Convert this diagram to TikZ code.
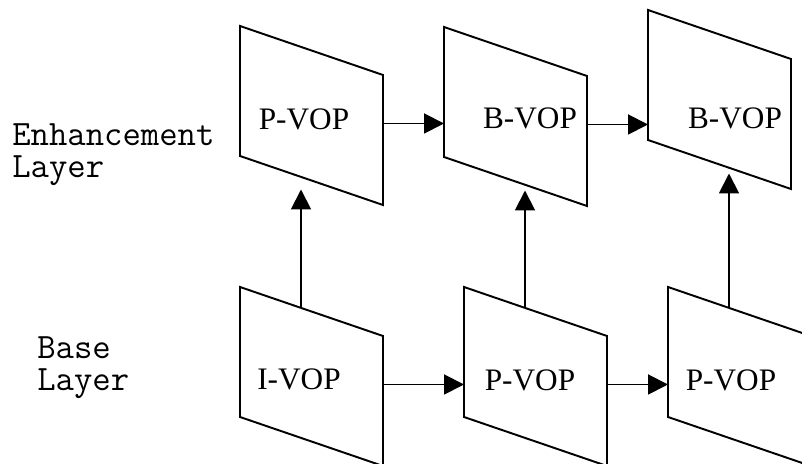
\documentclass[tikz,border=0pt]{standalone}
\usepackage{fontspec}
\setmainfont{Liberation Serif}
\usepackage{tikz}
\usetikzlibrary{arrows.meta}

\tikzset{
	flow/.style={-{Triangle[length=0.4cm,width=0.4cm]}, line width=1.1pt},
	layerlabel/.style={font=\ttfamily\fontsize{20.3}{18.4}\selectfont, align=left, inner sep=0pt},
	% slanted frame with its label, plus the points the arrows attach to
	pics/vop/.style args={#1 at #2}{code={
		\draw[line width=1.1pt] (0,0) -- (2.86,-0.98) -- (2.86,-3.58) -- (0,-2.6) -- cycle;
		\coordinate (-w) at (0,-1.95);
		\coordinate (-e) at (2.86,-1.95);
		\coordinate (-n) at (1.22,-0.418);
		\coordinate (-s) at (1.22,-3.27);
		\node[font=\fontsize{17.8}{20}\selectfont, anchor=base, inner sep=0pt] (-txt) at #2 {#1};
	}},
}

\begin{document}
\begin{tikzpicture}
	\useasboundingbox (0,0) rectangle (16.04,-9.28);
	% enhancement layer
	\pic (pv1) at (4.8,-0.52) {vop={P-VOP at (1.28,-2.08)}};
	\pic (bv1) at (8.88,-0.54) {vop={B-VOP at (1.72,-2.04)}};
	\pic (bv2) at (12.96,-0.2) {vop={B-VOP at (1.74,-2.38)}};
	% base layer
	\pic (iv) at (4.8,-5.74) {vop={I-VOP at (1.18,-2.06)}};
	\pic (pv2) at (9.28,-5.74) {vop={P-VOP at (1.32,-2.08)}};
	\pic (pv3) at (13.36,-5.74) {vop={P-VOP at (1.26,-2.08)}};
	% layer names (base anchor sits on the last line)
	\node[layerlabel, anchor=base west] (enh) at (0.24,-3.55) {Enhancement\\Layer};
	\node[layerlabel, anchor=base west] (base) at (0.74,-7.82) {Base\\Layer};
	% prediction within a layer
	\draw[flow] (pv1-e) -- (pv1-e -| bv1-w);
	\draw[flow] (bv1-e) -- (bv1-e -| bv2-w);
	\draw[flow] (iv-e) -- (iv-e -| pv2-w);
	\draw[flow] (pv2-e) -- (pv2-e -| pv3-w);
	% base to enhancement
	\foreach \lo/\hi in {iv/pv1,pv2/bv1,pv3/bv2}{
		\draw[flow] (\lo-n) -- (\lo-n |- \hi-s);
	}
\end{tikzpicture}
\end{document}
